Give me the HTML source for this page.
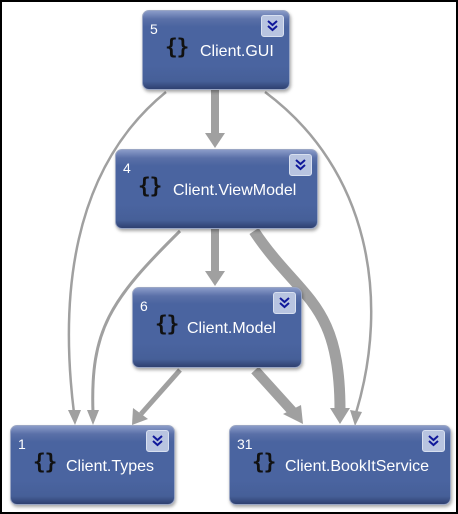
<!DOCTYPE html>
<html><head><style>
html,body{margin:0;padding:0;}
body{width:458px;height:514px;overflow:hidden;background:#fff;}
.f{position:absolute;left:0;top:0;width:454px;height:510px;border:2px solid #000;background:#fff;}
.n{position:absolute;border-radius:7px;background:linear-gradient(#8a9bc8 0px,#5a70a8 8px,#4a64a0 16px,#4a64a0 70%,#465f98 90%,#2e4070 100%);border:1px solid #9aa6c4;box-sizing:border-box;font-family:"Liberation Sans",sans-serif;color:#fff;box-shadow:1px 2px 3px rgba(0,0,0,.35);}
.num{position:absolute;left:7px;top:10px;font-size:14px;}
.ic{position:absolute;top:24px;font-size:21px;font-weight:bold;color:#111;font-family:"DejaVu Sans Mono",monospace;letter-spacing:-1px;}
.lb{position:absolute;top:32px;font-size:16px;}
.bt{position:absolute;right:5px;top:4px;width:23px;height:22px;border-radius:3px;background:#b8c4e0;border:1px solid #d8e0f0;box-sizing:border-box;}
</style></head><body><div class="f"></div>
<svg width="458" height="514" style="position:absolute;left:0;top:0">
<g fill="none" stroke="#a0a0a0" stroke-linecap="butt">
<path d="M215 90 L215 134" stroke-width="8"/>
<path d="M215 229 L215 272" stroke-width="8"/>
<path d="M166 92 C70 170 60 300 74 413" stroke-width="2.5"/>
<path d="M265 92 C370 170 390 300 356 413" stroke-width="2.5"/>
<path d="M180 231 C110 300 90 330 93 413" stroke-width="3"/>
<path d="M254 231 C300 300 340 300 340 410" stroke-width="11"/>
<path d="M180 370 L141 414" stroke-width="5"/>
<path d="M255 370 L293 412" stroke-width="10"/>
</g>
<g fill="#a0a0a0">
<polygon points="205,133 225,133 215,148"/>
<polygon points="205,271 225,271 215,286"/>
<polygon points="68,410 81,410 75,425"/>
<polygon points="350,410 362,412 355,426"/>
<polygon points="87,410 99,410 93,425"/>
<polygon points="330,408 350,408 340,424"/>
<polygon points="133,408 148,419 132,425"/>
<polygon points="283,414 301,405 303,424"/>
</g>
</svg>
<div class="n" style="left:142px;top:10px;width:148px;height:80px"><span class="num">5</span><span class="ic" style="left:22px">{}</span><span class="lb" style="left:57px">Client.GUI</span><span class="bt"><svg width="21" height="20"><path d="M6 5 L10.5 9 L15 5 M6 10 L10.5 14 L15 10" fill="none" stroke="#10189a" stroke-width="2"/></svg></span></div>
<div class="n" style="left:115px;top:149px;width:203px;height:80px"><span class="num">4</span><span class="ic" style="left:22px">{}</span><span class="lb" style="left:57px">Client.ViewModel</span><span class="bt"><svg width="21" height="20"><path d="M6 5 L10.5 9 L15 5 M6 10 L10.5 14 L15 10" fill="none" stroke="#10189a" stroke-width="2"/></svg></span></div>
<div class="n" style="left:132px;top:287px;width:170px;height:81px"><span class="num">6</span><span class="ic" style="left:22px">{}</span><span class="lb" style="left:54px">Client.Model</span><span class="bt"><svg width="21" height="20"><path d="M6 5 L10.5 9 L15 5 M6 10 L10.5 14 L15 10" fill="none" stroke="#10189a" stroke-width="2"/></svg></span></div>
<div class="n" style="left:10px;top:425px;width:165px;height:80px"><span class="num">1</span><span class="ic" style="left:22px">{}</span><span class="lb" style="left:55px">Client.Types</span><span class="bt"><svg width="21" height="20"><path d="M6 5 L10.5 9 L15 5 M6 10 L10.5 14 L15 10" fill="none" stroke="#10189a" stroke-width="2"/></svg></span></div>
<div class="n" style="left:229px;top:425px;width:222px;height:80px"><span class="num">31</span><span class="ic" style="left:22px">{}</span><span class="lb" style="left:55px">Client.BookItService</span><span class="bt"><svg width="21" height="20"><path d="M6 5 L10.5 9 L15 5 M6 10 L10.5 14 L15 10" fill="none" stroke="#10189a" stroke-width="2"/></svg></span></div>
</body></html>
